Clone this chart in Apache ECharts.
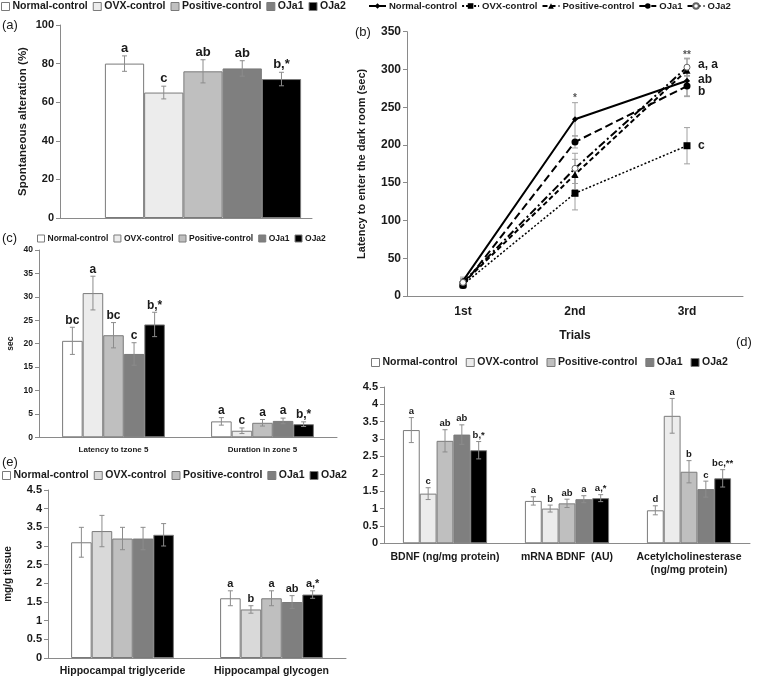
<!DOCTYPE html>
<html><head><meta charset="utf-8">
<script src="https://cdn.jsdelivr.net/npm/echarts@6/dist/echarts.min.js"></script>
<style>html,body{margin:0;padding:0;background:#fff}#c{width:760px;height:678px}</style>
</head><body><div id="c"></div>
<script>
// ---------- DATA ----------
const groups = ['Normal-control', 'OVX-control', 'Positive-control', 'OJa1', 'OJa2'];

// (a) Spontaneous alteration (%)
const aValues = [80, 65, 76, 77.5, 72];
const aErrors = [4, 3.3, 6, 4, 3.5];
const aLetters = ['a', 'c', 'ab', 'ab', 'b,*'];
const aTicks = [0, 100, 20];

// (b) Latency to enter the dark room (sec)
const bTrials = ['1st', '2nd', '3rd'];
const bNormal = [20, 234, 285];
const bOVX = [15, 136, 199];
const bPositive = [17, 161, 299];
const bOJa1 = [14, 204, 278];
const bOJa2 = [18, 169, 303];
const bNormalErr = [5, 22, 20];
const bOVXErr = [4, 22, 24];
const bPositiveErr = [5, 20, 15];
const bOJa1Err = [4, 8, 14];
const bOJa2Err = [5, 20, 12];
const bSigText = ['*', '**'];
const bSigTrial = ['2nd', '3rd'];
const bSigY = [262, 319];
const bLetterText = ['a, a', 'ab', 'b', 'c'];
const bLetterY = [306, 287, 270, 199];
const bTicks = [0, 350, 50];

// (c) sec
const cCats = ['Latency to tzone 5', 'Duration in zone 5'];
const cNormal = [20.6, 3.4];
const cOVX = [30.8, 1.4];
const cPositive = [21.8, 3.1];
const cOJa1 = [17.8, 3.5];
const cOJa2 = [24.1, 2.8];
const cNormalErr = [2.9, 0.8];
const cOVXErr = [3.6, 0.6];
const cPositiveErr = [2.7, 0.7];
const cOJa1Err = [2.4, 0.6];
const cOJa2Err = [2.6, 0.5];
const cLetters = [['bc', 'a'], ['a', 'c'], ['bc', 'a'], ['c', 'a'], ['b,*', 'b,*']];
const cTicks = [0, 40, 5];

// (d)
const dCats = ['BDNF (ng/mg protein)', 'mRNA BDNF  (AU)', 'Acetylcholinesterase\n(ng/mg protein)'];
const dNormal = [3.26, 1.22, 0.95];
const dOVX = [1.43, 1.0, 3.67];
const dPositive = [2.95, 1.15, 2.06];
const dOJa1 = [3.13, 1.27, 1.56];
const dOJa2 = [2.68, 1.3, 1.87];
const dNormalErr = [0.36, 0.12, 0.13];
const dOVXErr = [0.17, 0.1, 0.5];
const dPositiveErr = [0.32, 0.12, 0.32];
const dOJa1Err = [0.28, 0.1, 0.23];
const dOJa2Err = [0.25, 0.1, 0.25];
const dLetters = [['a', 'a', 'd'], ['c', 'b', 'a'], ['ab', 'ab', 'b'], ['ab', 'a', 'c'], ['b,*', 'a,*', 'bc,**']];
const dTicks = [0, 4.5, 0.5];

// (e) mg/g tissue
const eCats = ['Hippocampal triglyceride', 'Hippocampal glycogen'];
const eNormal = [3.1, 1.6];
const eOVX = [3.4, 1.3];
const ePositive = [3.2, 1.6];
const eOJa1 = [3.2, 1.5];
const eOJa2 = [3.3, 1.7];
const eNormalErr = [0.4, 0.2];
const eOVXErr = [0.42, 0.1];
const ePositiveErr = [0.3, 0.2];
const eOJa1Err = [0.3, 0.17];
const eOJa2Err = [0.3, 0.1];
const eLetters = [['', 'a'], ['', 'b'], ['', 'a'], ['', 'ab'], ['', 'a,*']];
const eTicks = [0, 4.5, 0.5];

// ---------- STYLE ----------
const FONT = "'Liberation Sans', Arial, sans-serif";
const TXT = '#1a1a1a';
const AX = '#8a8a8a';
const ERR = '#8c8c8c';
const barColors = ['#ffffff', '#ececec', '#bfbfbf', '#7f7f7f', '#000000'];
const barColorsE = ['#ffffff', '#d9d9d9', '#bfbfbf', '#7f7f7f', '#000000'];

const series = [];

function barSeries(prefix, xi, yi, valsList, gap, colors) {
  valsList.forEach((vals, i) => {
    series.push({
      type: 'bar', name: prefix + '|' + groups[i], xAxisIndex: xi, yAxisIndex: yi,
      data: vals, barGap: '0%', barCategoryGap: gap,
      itemStyle: { color: colors[i], borderColor: '#7a7a7a', borderWidth: 1 },
      silent: true
    });
  });
}

function errSeries(xi, yi, nCats, valsList, errList, lettersList, gapFrac, fs) {
  const data = [], labs = [];
  for (let c = 0; c < nCats; c++) {
    for (let i = 0; i < valsList.length; i++) {
      data.push([c, i, valsList[i][c], errList[i][c]]);
      labs.push(lettersList[i][c]);
    }
  }
  series.push({
    type: 'custom', xAxisIndex: xi, yAxisIndex: yi, data: data, encode: { x: 0, y: 2 },
    z: 5, silent: true,
    renderItem: function (params, api) {
      const c = api.value(0), i = api.value(1), v = api.value(2), e = api.value(3);
      const band = api.size([1, 0])[0];
      const bw = band * (1 - gapFrac) / valsList.length;
      const x = api.coord([c, 0])[0] + (i - (valsList.length - 1) / 2) * bw;
      const yT = api.coord([c, v + e])[1], yB = api.coord([c, v - e])[1];
      const cap = 2.5;
      const st = { stroke: ERR, lineWidth: 1 };
      return {
        type: 'group', children: [
          { type: 'line', shape: { x1: x, y1: yT, x2: x, y2: yB }, style: st },
          { type: 'line', shape: { x1: x - cap, y1: yT, x2: x + cap, y2: yT }, style: st },
          { type: 'line', shape: { x1: x - cap, y1: yB, x2: x + cap, y2: yB }, style: st },
          { type: 'text', style: { text: labs[params.dataIndex], x: x, y: yT - 1, align: 'center', verticalAlign: 'bottom',
              fontSize: fs, fontWeight: 'bold', fontFamily: FONT, fill: TXT } }
        ]
      };
    }
  });
}

// (a)
barSeries('a', 1, 1, aValues.map(v => [v]), '10%', barColors);
errSeries(1, 1, 1, aValues.map(v => [v]), aErrors.map(v => [v]), aLetters.map(v => [v]), 0.10, 13);
// (c)
const cVals = [cNormal, cOVX, cPositive, cOJa1, cOJa2];
barSeries('c', 3, 3, cVals, '31%', barColors);
errSeries(3, 3, 2, cVals, [cNormalErr, cOVXErr, cPositiveErr, cOJa1Err, cOJa2Err], cLetters, 0.31, 12);
// (d)
const dVals = [dNormal, dOVX, dPositive, dOJa1, dOJa2];
barSeries('d', 4, 4, dVals, '31%', barColors);
errSeries(4, 4, 3, dVals, [dNormalErr, dOVXErr, dPositiveErr, dOJa1Err, dOJa2Err], dLetters, 0.31, 9.5);
// (e)
const eVals = [eNormal, eOVX, ePositive, eOJa1, eOJa2];
barSeries('e', 5, 5, eVals, '31%', barColorsE);
errSeries(5, 5, 2, eVals, [eNormalErr, eOVXErr, ePositiveErr, eOJa1Err, eOJa2Err], eLetters, 0.31, 11);

// (b) lines
const bVals = [bNormal, bOVX, bPositive, bOJa1, bOJa2];
const bErrs = [bNormalErr, bOVXErr, bPositiveErr, bOJa1Err, bOJa2Err];
const bLineTypes = ['solid', [2, 2], [5, 3], [8, 4], [8, 3, 2, 3]];
const bSymbols = ['diamond', 'rect', 'triangle', 'circle', 'circle'];
const bSymSize = [6, 7, 7, 7, 6];
bVals.forEach((vals, i) => {
  series.push({
    type: 'line', name: 'b|' + groups[i], xAxisIndex: 2, yAxisIndex: 2, data: vals,
    symbol: bSymbols[i], symbolSize: bSymSize[i], showSymbol: true,
    lineStyle: { color: '#000', width: i === 1 ? 1.5 : 2, type: bLineTypes[i] },
    itemStyle: i === 4 ? { color: '#fff', borderColor: '#666', borderWidth: 1 } : { color: '#000' },
    z: 3, silent: true
  });
});
(function () {
  const data = [];
  bVals.forEach((vals, i) => vals.forEach((v, c) => data.push([c, v, bErrs[i][c]])));
  series.push({
    type: 'custom', xAxisIndex: 2, yAxisIndex: 2, data: data, encode: { x: 0, y: 1 }, z: 2, silent: true,
    renderItem: function (params, api) {
      const c = api.value(0), v = api.value(1), e = api.value(2);
      const x = api.coord([c, v])[0];
      const yT = api.coord([c, v + e])[1], yB = api.coord([c, v - e])[1];
      const st = { stroke: '#a0a0a0', lineWidth: 1 };
      return { type: 'group', children: [
        { type: 'line', shape: { x1: x, y1: yT, x2: x, y2: yB }, style: st },
        { type: 'line', shape: { x1: x - 3, y1: yT, x2: x + 3, y2: yT }, style: st },
        { type: 'line', shape: { x1: x - 3, y1: yB, x2: x + 3, y2: yB }, style: st }
      ] };
    }
  });
  const notes = [];
  const noteText = [];
  const noteOff = [];
  bSigText.forEach((t, k) => { notes.push([bTrials.indexOf(bSigTrial[k]), bSigY[k]]); noteText.push(t); noteOff.push(0); });
  bLetterText.forEach((t, k) => { notes.push([2, bLetterY[k]]); noteText.push(t); noteOff.push(1); });
  series.push({
    type: 'custom', xAxisIndex: 2, yAxisIndex: 2, data: notes, encode: { x: 0, y: 1 }, z: 6, silent: true,
    renderItem: function (params, api) {
      const p = api.coord([api.value(0), api.value(1)]);
      const off = noteOff[params.dataIndex];
      return { type: 'text', style: { text: noteText[params.dataIndex], x: p[0] + (off ? 11 : 0), y: p[1],
        align: off ? 'left' : 'center', verticalAlign: 'middle', fontSize: off ? 12 : 10, fontWeight: 'bold',
        fontFamily: FONT, fill: off ? TXT : '#555' } };
    }
  });
})();

// ---------- AXES ----------
function yAxis(grid, ticks, fs, show, name, nameGap, nameSize) {
  return {
    gridIndex: grid, type: 'value', min: ticks[0], max: ticks[1], interval: ticks[2], show: show !== false,
    splitLine: { show: false },
    axisLine: { show: true, lineStyle: { color: AX, width: 1 } },
    axisTick: { show: true, length: 4, lineStyle: { color: AX } },
    axisLabel: { fontSize: fs, fontWeight: 'bold', color: TXT, fontFamily: FONT, margin: 6 },
    name: name || '', nameLocation: 'middle', nameGap: nameGap || 0, nameRotate: 90,
    nameTextStyle: { fontSize: nameSize || 11, fontWeight: 'bold', color: TXT, fontFamily: FONT }
  };
}
function xAxis(grid, cats, fs, show, margin, extra) {
  return Object.assign({
    gridIndex: grid, type: 'category', data: cats, show: show !== false,
    axisLine: { show: true, lineStyle: { color: AX, width: 1 } },
    axisTick: { show: false },
    axisLabel: { fontSize: fs, fontWeight: 'bold', color: TXT, fontFamily: FONT, margin: margin, interval: 0, lineHeight: 13 }
  }, extra || {});
}

const xAxes = [
  xAxis(0, [''], 10, true, 6),
  xAxis(1, [''], 10, false, 6),
  xAxis(2, bTrials, 12, true, 9, { name: 'Trials', nameLocation: 'middle', nameGap: 34,
    nameTextStyle: { fontSize: 12, fontWeight: 'bold', color: TXT, fontFamily: FONT } }),
  xAxis(3, cCats, 8, true, 6),
  xAxis(4, dCats, 10.5, true, 7),
  xAxis(5, eCats, 10.5, true, 7)
];
const yAxes = [
  yAxis(0, aTicks, 11, true, 'Spontaneous alteration (%)', 31, 11.5),
  yAxis(1, aTicks, 11, false),
  yAxis(2, bTicks, 12, true, 'Latency to enter the dark room (sec)', 40, 11),
  yAxis(3, cTicks, 8.5, true, 'sec', 24, 8.5),
  yAxis(4, dTicks, 11, true),
  yAxis(5, eTicks, 11, true, 'mg/g tissue', 35, 10)
];

const grids = [
  { left: 60, top: 25, width: 252, height: 193 },
  { left: 94, top: 25, width: 218, height: 193 },
  { left: 407, top: 31.7, width: 336, height: 264.3 },
  { left: 39, top: 250, width: 298, height: 187.3 },
  { left: 384, top: 387, width: 366, height: 156.3 },
  { left: 48, top: 490, width: 298, height: 168.3 }
];

function barLegend(prefix, left, top, fs, gap, iw) {
  return {
    data: groups.map(g => prefix + '|' + g), left: left, top: top, orient: 'horizontal',
    icon: 'rect', itemWidth: iw, itemHeight: iw, itemGap: gap, selectedMode: false,
    itemStyle: { borderColor: '#7a7a7a', borderWidth: 1 },
    formatter: n => n.slice(2), padding: 0,
    textStyle: { fontSize: fs, fontWeight: 'bold', color: TXT, fontFamily: FONT, padding: [0, 0, 0, -2] }
  };
}
const legends = [
  barLegend('a', 1, 1, 10.5, 5, 8),
  {
    data: groups.map(g => 'b|' + g), left: 368, top: 1, width: 392, itemWidth: 17, itemHeight: 7, itemGap: 4,
    selectedMode: false, formatter: n => n.slice(2), padding: 0,
    textStyle: { fontSize: 9.5, fontWeight: 'bold', color: TXT, fontFamily: FONT, padding: [0, 0, 0, -2] }
  },
  barLegend('c', 37, 234, 8.5, 5, 7),
  barLegend('d', 371, 357, 10.5, 8, 8),
  barLegend('e', 2, 470, 10.5, 5, 8)
];

const panelLabel = (t, x, y) => ({ type: 'text', left: x, top: y, silent: true,
  style: { text: t, fontSize: 13, fontFamily: FONT, fill: TXT } });

const option = {
  animation: false,
  backgroundColor: '#fff',
  textStyle: { fontFamily: FONT },
  grid: grids, xAxis: xAxes, yAxis: yAxes, legend: legends, series: series,
  graphic: [
    panelLabel('(a)', 2, 19),
    panelLabel('(b)', 355, 26),
    panelLabel('(c)', 2, 232),
    panelLabel('(d)', 736, 336),
    panelLabel('(e)', 2, 456)
  ]
};
const chart = echarts.init(document.getElementById('c'), null, { renderer: 'canvas' });
chart.setOption(option);
</script></body></html>
